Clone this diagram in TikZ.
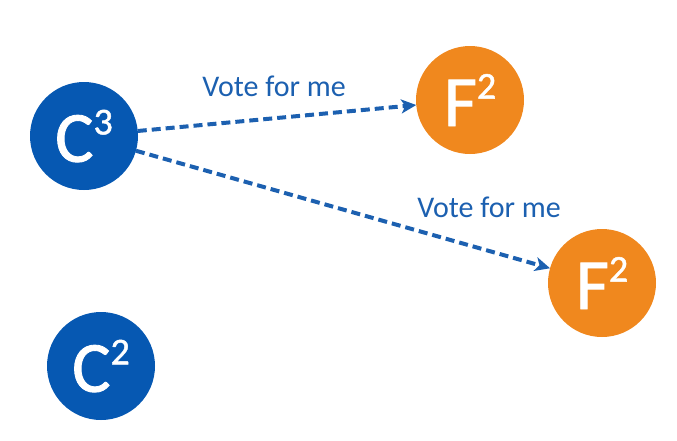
\documentclass[tikz,border=0pt]{standalone}
\usepackage{fontspec}
\setmainfont{Carlito}
\newfontface\circlefont{Carlito}[FakeBold=1.2]
\usetikzlibrary{arrows.meta}
\definecolor{col_0a5cb4}{RGB}{6,88,178}
\definecolor{col_f08a1e}{RGB}{240,136,30}
\definecolor{col_1f62b0}{RGB}{28,96,176}
\newcommand{\tikzvotetext}[2]{%
#1\raisebox{0.38em}{\fontsize{38}{38}\selectfont #2}%
}

\begin{document}
\begin{tikzpicture}[x=1pt,y=-1pt,
  candidate/.style={circle,fill=col_0a5cb4,text=white,minimum size=108pt,inner sep=0pt,outer sep=0pt,font=\circlefont\fontsize{72}{72}\selectfont},
  follower/.style={candidate,fill=col_f08a1e},
  votelabel/.style={text=col_1f62b0,font=\fontsize{30}{30}\selectfont,inner sep=0pt},
  voteline/.style={col_1f62b0,line width=4pt,dash pattern=on 9pt off 5pt,-{Stealth[length=15pt,width=14pt,inset=4pt]}}]
\useasboundingbox (0,0) rectangle (677,440);     %% page frame
\node[candidate] (c3) at (84,136) {\tikzvotetext{C}{3}};
\node[follower] (f2a) at (470,100) {\tikzvotetext{F}{2}};
\node[follower] (f2b) at (602,283) {\tikzvotetext{F}{2}};
\node[candidate] (c2) at (101,366) {\tikzvotetext{C}{2}};
\node[votelabel] (vote1) at (274,86) {Vote for me};
\node[votelabel] (vote2) at (489,207) {Vote for me};
\draw[voteline] (c3) -- (f2a);
\draw[voteline] (c3) -- (f2b);
\end{tikzpicture}
\end{document}
